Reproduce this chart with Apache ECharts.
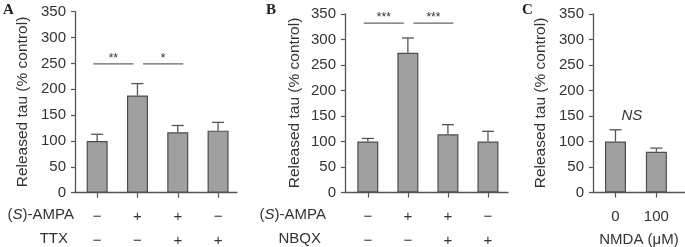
<!DOCTYPE html>
<html><head><meta charset="utf-8">
<script src="https://cdn.jsdelivr.net/npm/echarts@6/dist/echarts.min.js"></script>
<style>html,body{margin:0;padding:0;background:#fff}#c{width:685px;height:247px}</style>
</head><body><div id="c"></div>
<script>
// ---- data ----
const valuesA = [100, 188, 117, 120];
const errTopA = [113, 211, 130, 136];
const ampaA = ['−', '+', '+', '−'];
const ttxA = ['−', '−', '+', '+'];
const sigA = [[0, 1, 249], [1, 2, 249]];
const sigLabelA = ['**', '*'];

const valuesB = [100, 274, 114, 100];
const errTopB = [106, 303, 133, 120];
const ampaB = ['−', '+', '+', '−'];
const nbqxB = ['−', '−', '+', '+'];
const sigB = [[0, 1, 332], [1, 2, 332]];
const sigLabelB = ['***', '***'];

const valuesC = [100, 80];
const errTopC = [123, 87];
const nmdaC = ['0', '100'];
const sigC = [[0, 1, 150]];
const sigLabelC = ['NS'];

const yMin = 0, yMax = 350, yStep = 50;
const yTitle = 'Released tau (% control)';

// ---- styles ----
const FONT = 'Liberation Sans, Arial, sans-serif';
const AX = '#555';
const TXT = '#333';

function errRender(params, api) {
  const x = api.value(0), v = api.value(1), t = api.value(2);
  const p0 = api.coord([x, v]), p1 = api.coord([x, t]);
  const hw = 6;
  return {type: 'group', children: [
    {type: 'line', shape: {x1: p0[0], y1: p0[1], x2: p1[0], y2: p1[1]}, style: {stroke: AX, lineWidth: 1.3}},
    {type: 'line', shape: {x1: p1[0] - hw, y1: p1[1], x2: p1[0] + hw, y2: p1[1]}, style: {stroke: AX, lineWidth: 1.3}}
  ]};
}
function sigRenderFactory(labels, showLine, italic) {
  return function (params, api) {
    const a = api.value(0), b = api.value(1), y = api.value(2);
    const pa = api.coord([a, y]), pb = api.coord([b, y]);
    const off = showLine ? (params.dataIndex === 0 ? -4 : 5.5) : -4;
    const ch = [];
    if (showLine) ch.push({type: 'line', shape: {x1: pa[0] + off, y1: pa[1], x2: pb[0] + off, y2: pb[1]}, style: {stroke: '#666', lineWidth: 1.2}});
    ch.push({type: 'text', style: {
      text: labels[params.dataIndex], x: (pa[0] + pb[0]) / 2 + off, y: showLine ? pa[1] + 1 : pa[1],
      align: 'center', verticalAlign: showLine ? 'bottom' : 'middle',
      fontSize: showLine ? 12 : 15, fontStyle: italic ? 'italic' : 'normal', fontFamily: FONT, fill: TXT}});
    return {type: 'group', children: ch};
  };
}

const grids = [
  {left: 75, width: 162, top: 11.7, height: 181, outerBoundsMode: 'none', containLabel: false},
  {left: 345, width: 163, top: 14, height: 178.5, outerBoundsMode: 'none', containLabel: false},
  {left: 593, width: 92, top: 14, height: 178.5, outerBoundsMode: 'none', containLabel: false}
];
const xRanges = [[-0.55, 3.47], [-0.57, 3.5], [-0.55, 1.7]];
const rowLabelsA = ampaA.map((v, i) => v + '\n' + ttxA[i]);
const rowLabelsB = ampaB.map((v, i) => v + '\n' + nbqxB[i]);
const xLabels = [rowLabelsA, rowLabelsB, nmdaC];

const xAxes = grids.map((g, i) => ({
  type: 'value', gridIndex: i, min: xRanges[i][0], max: xRanges[i][1],
  splitLine: {show: false},
  axisLine: {show: true, onZero: false, lineStyle: {color: AX, width: 1.3}},
  axisTick: {show: true, length: 5, lineStyle: {color: AX, width: 1.2}, customValues: xLabels[i].map((_, k) => k)},
  axisLabel: {show: true, customValues: xLabels[i].map((_, k) => k), formatter: v => xLabels[i][Math.round(v)],
    margin: 12, color: TXT, fontSize: 15, fontFamily: FONT, lineHeight: 24},
  name: i === 2 ? 'NMDA (μM)' : '', nameLocation: 'middle', nameGap: 40, nameMoveOverlap: false,
  nameTextStyle: {color: TXT, fontSize: 15, fontFamily: FONT}
}));
const yAxes = grids.map((g, i) => ({
  type: 'value', gridIndex: i, min: yMin, max: yMax, interval: yStep,
  splitLine: {show: false},
  axisLine: {show: true, onZero: false, lineStyle: {color: AX, width: 1.3}},
  axisTick: {show: true, length: 4, lineStyle: {color: AX, width: 1.2}},
  axisLabel: {color: TXT, fontSize: 15, fontFamily: FONT, margin: 9}
}));

const panels = [
  [valuesA, errTopA, sigA, sigLabelA, true],
  [valuesB, errTopB, sigB, sigLabelB, true],
  [valuesC, errTopC, sigC, sigLabelC, false]
];
const series = [];
panels.forEach((p, i) => {
  series.push({type: 'bar', xAxisIndex: i, yAxisIndex: i, barWidth: 21,
    data: p[0].map((v, k) => [k, v]),
    itemStyle: {color: '#a0a0a0', borderColor: '#4d4d4d', borderWidth: 1.2}, z: 2});
  series.push({type: 'custom', xAxisIndex: i, yAxisIndex: i, renderItem: errRender,
    data: p[0].map((v, k) => [k, v, p[1][k]]), z: 3});
  series.push({type: 'custom', xAxisIndex: i, yAxisIndex: i, renderItem: sigRenderFactory(p[3], p[4], !p[4]),
    data: p[2], z: 4, clip: false});
});

const rich = {n: {fontSize: 15, fontFamily: FONT, color: TXT}, i: {fontSize: 15, fontFamily: FONT, color: TXT, fontStyle: 'italic'}};
function rowText(txt, right, y) {
  return {type: 'text', right: right, top: y - 9, style: {text: txt, rich: rich, font: '15px ' + FONT, fill: TXT}};
}
function yTitleText(cx, cy) {
  return {type: 'text', x: cx, y: cy, rotation: Math.PI / 2,
    style: {text: yTitle, font: '15.5px ' + FONT, fill: TXT, align: 'center', verticalAlign: 'middle'}};
}
const graphics = [
  {type: 'text', left: 3, top: 3, style: {text: 'A', font: 'bold 15px Liberation Serif, serif', fill: '#222'}},
  {type: 'text', left: 266, top: 3, style: {text: 'B', font: 'bold 15px Liberation Serif, serif', fill: '#222'}},
  {type: 'text', left: 522, top: 3, style: {text: 'C', font: 'bold 15px Liberation Serif, serif', fill: '#222'}},
  yTitleText(23, 102), yTitleText(295, 103), yTitleText(541, 103),
  rowText('{n|(}{i|S}{n|)-AMPA}', 685 - 74, 216),
  rowText('{n|TTX}', 685 - 68, 240),
  rowText('{n|(}{i|S}{n|)-AMPA}', 685 - 326, 216),
  rowText('{n|NBQX}', 685 - 321, 240)
];

const chart = echarts.init(document.getElementById('c'), null, {renderer: 'canvas'});
chart.setOption({
  animation: false,
  grid: grids,
  xAxis: xAxes,
  yAxis: yAxes,
  series: series,
  graphic: graphics
});
</script></body></html>
